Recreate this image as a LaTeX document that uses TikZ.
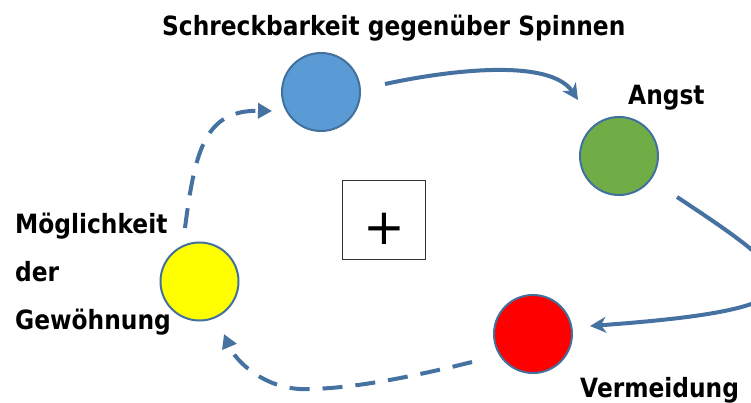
\documentclass[tikz,border=0pt]{standalone}
\usepackage{fontspec}
\newfontfamily\lblfont{DejaVu Sans}[FakeStretch=0.88]
\newfontfamily\plusfont{DejaVu Sans}
\usetikzlibrary{arrows.meta,calc}
\definecolor{linec}{HTML}{4672A1}
\definecolor{ringc}{HTML}{41719C}
\definecolor{cblue}{HTML}{5B9BD5}
\definecolor{cgreen}{HTML}{70AD47}
\definecolor{cred}{HTML}{FF0000}
\definecolor{cyellow}{HTML}{FFFF00}
\tikzset{
  dot/.style={circle, draw=ringc, line width=2pt, minimum size=78pt, inner sep=0pt},
  lbl/.style={font=\lblfont\bfseries\fontsize{26.5}{48}\selectfont, inner sep=0pt, align=left},
  solidarr/.style={draw=linec, line width=4pt, -{Stealth[length=16pt,width=16pt,inset=5pt]}},
  dasharr/.style={draw=linec, line width=4pt, dash pattern=on 20pt off 13pt, -{Triangle[length=14pt,width=15pt]}},
}
\begin{document}
\begin{tikzpicture}[x=1pt,y=-1pt]
\fill[white] (0,0) rectangle (751,403);
\useasboundingbox (0,0) rectangle (751,403);
\node[dot, fill=cblue] (blue) at (321,92) {};
\node[dot, fill=cgreen] (green) at (619,156) {};
\node[dot, fill=cred] (red) at (533,334) {};
\node[dot, fill=cyellow] (yellow) at (199.5,281.5) {};
\node[draw=black!80, line width=1pt, minimum width=83pt, minimum height=78pt, inner sep=0pt] (box) at (383.5,220) {};
\node[font=\plusfont\fontsize{50}{50}\selectfont, inner sep=0pt] (plus) at (384,229) {+};
\node[lbl, anchor=base west] (title) at (162,35.5) {Schreckbarkeit gegenüber Spinnen};
\node[lbl, anchor=base west] (angst) at (628,105) {Angst};
\node[lbl, anchor=base west] (verm) at (580,397) {Vermeidung};
\node[lbl, anchor=base west] (mog) at (15,329) {Möglichkeit\\der\\Gewöhnung};
\draw[solidarr] ($(blue)+(64,-8)$) .. controls ($(blue)+(129,-22)$) and ($(blue)+(229,-34)$) .. ($(green)+(-41,-56)$);
\draw[solidarr] ($(green)+(58,41)$) .. controls ($(green)+(185,125)$) and ($(red)+(305,-26)$) .. ($(red)+(57,-8)$);
\draw[dasharr] ($(red)+(-61,28)$) .. controls ($(red)+(-133,46)$) and ($(red)+(-193,56)$) .. ($(yellow)+(100.5,107.5)$)
  .. controls ($(yellow)+(62.5,105.5)$) and ($(yellow)+(35.5,78.5)$) .. ($(yellow)+(24.5,52.5)$);
\draw[dasharr] ($(yellow)+(-14.5,-53.5)$) .. controls ($(yellow)+(-4.5,-131.5)$) and ($(blue)+(-116,18)$) .. ($(blue)+(-49,19)$);
\end{tikzpicture}
\end{document}
